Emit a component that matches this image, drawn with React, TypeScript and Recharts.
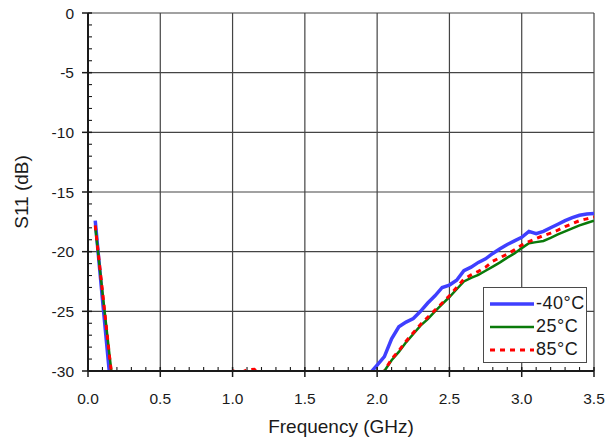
import { LineChart, Line, XAxis, YAxis, CartesianGrid, Legend } from 'recharts';

// S11 vs frequency at three temperatures.
// null = no trace drawn there (below the -30 dB floor).
const freqGHz = [
  0.05, 0.1, 0.15, 0.2, 0.25, 0.3, 0.35, 0.4, 0.45, 0.5,
  0.55, 0.6, 0.65, 0.7, 0.75, 0.8, 0.85, 0.9, 0.95, 1.0,
  1.05, 1.1, 1.15, 1.2, 1.25, 1.3, 1.35, 1.4, 1.45, 1.5,
  1.55, 1.6, 1.65, 1.7, 1.75, 1.8, 1.85, 1.9, 1.95, 2.0,
  2.05, 2.1, 2.15, 2.2, 2.25, 2.3, 2.35, 2.4, 2.45, 2.5,
  2.55, 2.6, 2.65, 2.7, 2.75, 2.8, 2.85, 2.9, 2.95, 3.0,
  3.05, 3.1, 3.15, 3.2, 3.25, 3.3, 3.35, 3.4, 3.45, 3.5,
];

const s11Minus40 = [
  -17.4, -24.0, -30.4, -36.0, null, null, null, null, null, null,
  null, null, null, null, null, null, null, null, null, null,
  null, null, null, null, null, null, null, null, null, null,
  null, null, null, null, null, null, null, null, -30.2, -29.5,
  -28.8, -27.3, -26.3, -25.9, -25.6, -25.0, -24.3, -23.7, -23.0, -22.8,
  -22.4, -21.6, -21.3, -20.9, -20.6, -20.15, -19.75, -19.4, -19.1, -18.8,
  -18.3, -18.5, -18.3, -18.0, -17.7, -17.4, -17.15, -16.95, -16.85, -16.8,
];

const s11Plus25 = [
  -17.9, -23.4, -28.8, -34.0, null, null, null, null, null, null,
  null, null, null, null, null, null, null, null, null, null,
  null, null, null, null, null, null, null, null, null, null,
  null, null, null, null, null, null, null, null, null, -31.0,
  -30.0, -29.1, -28.4, -27.6, -26.9, -26.2, -25.65, -25.0, -24.4, -23.8,
  -23.15, -22.5, -22.2, -21.95, -21.6, -21.25, -20.9, -20.5, -20.15, -19.7,
  -19.3, -19.2, -19.1, -18.85, -18.55, -18.3, -18.05, -17.8, -17.6, -17.4,
];

const s11Plus85 = [
  -17.8, -23.3, -28.9, -34.0, null, null, null, null, null, null,
  null, null, null, null, null, null, null, null, null, -29.98,
  -30.2, -29.9, -29.85, -30.4, null, null, null, null, null, null,
  null, null, null, null, null, null, null, null, null, -31.0,
  -30.0, -29.0, -28.3, -27.5, -26.8, -26.1, -25.5, -24.9, -24.3, -23.7,
  -23.0, -22.3, -21.95, -21.65, -21.3, -20.8, -20.5, -20.2, -19.85, -19.45,
  -19.15, -18.9, -18.65, -18.45, -18.2, -17.9, -17.65, -17.4, -17.25, -17.1,
];

const xMajorTicks = [0, 0.5, 1.0, 1.5, 2.0, 2.5, 3.0, 3.5];
const xMinorTicks = [
  0, 0.1, 0.2, 0.3, 0.4, 0.5, 0.6, 0.7, 0.8, 0.9, 1.0, 1.1, 1.2, 1.3, 1.4, 1.5, 1.6, 1.7,
  1.8, 1.9, 2.0, 2.1, 2.2, 2.3, 2.4, 2.5, 2.6, 2.7, 2.8, 2.9, 3.0, 3.1, 3.2, 3.3, 3.4, 3.5,
];
const yMajorTicks = [-30, -25, -20, -15, -10, -5, 0];
const yMinorTicks = [
  -30, -29, -28, -27, -26, -25, -24, -23, -22, -21, -20, -19, -18, -17, -16, -15,
  -14, -13, -12, -11, -10, -9, -8, -7, -6, -5, -4, -3, -2, -1, 0,
];

const series = [
  { key: 'm40', name: '-40°C', color: '#3f3fff', width: 3.5, dash: undefined },
  { key: 'p25', name: '25°C', color: '#0a7a0a', width: 2.5, dash: undefined },
  { key: 'p85', name: '85°C', color: '#ff0000', width: 3, dash: '5 5' },
];

const rows = freqGHz.map((f, i) => ({
  f,
  m40: s11Minus40[i],
  p25: s11Plus25[i],
  p85: s11Plus85[i],
}));

const FONT = '"Liberation Sans", Arial, sans-serif';
const INK = '#1a1a1a';
const X_LABEL_GAP = 22;
const Y_LABEL_GAP = 14;

const isMajor = (v: number, majors: number[]) => majors.some((m) => Math.abs(m - v) < 1e-6);

// tick mark + label drawn together so minor ticks can point inwards
function FreqTick(props: any) {
  const { x, y, payload } = props;
  const v = payload.value as number;
  const major = isMajor(v, xMajorTicks);
  const axisY = y - X_LABEL_GAP;
  return (
    <g>
      <line x1={x} x2={x} y1={axisY - 4} y2={major ? axisY + 6 : axisY} stroke={INK} strokeWidth={major ? 1.5 : 1.1} />
      {major && (
        <text x={x} y={y} dy="0.71em" textAnchor="middle" fontSize={15.5} fill={INK} fontFamily={FONT}>
          {v.toFixed(1)}
        </text>
      )}
    </g>
  );
}

function DbTick(props: any) {
  const { x, y, payload } = props;
  const v = payload.value as number;
  const major = isMajor(v, yMajorTicks);
  const axisX = x + Y_LABEL_GAP;
  return (
    <g>
      <line x1={major ? axisX - 6 : axisX} x2={axisX + 4} y1={y} y2={y} stroke={INK} strokeWidth={major ? 1.5 : 1.1} />
      {major && (
        <text x={x} y={y} dy="0.355em" textAnchor="end" fontSize={15.5} fill={INK} fontFamily={FONT}>
          {v}
        </text>
      )}
    </g>
  );
}

function LegendBox() {
  return (
    <div
      style={{
        border: '1px solid #4a4a4a',
        background: '#fff',
        width: 104,
        height: 76,
        boxSizing: 'border-box',
        padding: '4px 0 0 6px',
        fontFamily: FONT,
      }}
    >
      {series.map((s) => (
        <div key={s.key} style={{ display: 'flex', alignItems: 'center', height: 23 }}>
          <svg width={44} height={8} style={{ display: 'block' }}>
            <line x1={0} y1={4} x2={44} y2={4} stroke={s.color} strokeWidth={s.width} strokeDasharray={s.dash} />
          </svg>
          <span style={{ fontSize: 18, color: INK, marginLeft: 2, letterSpacing: 0.5 }}>{s.name}</span>
        </div>
      ))}
    </div>
  );
}

export default function App() {
  return (
    <div style={{ position: 'absolute', left: 0, top: 0, width: 608, height: 443, background: '#fff' }}>
      <LineChart width={608} height={443} data={rows} margin={{ top: 13, right: 14, left: 28, bottom: 32 }}>
        <CartesianGrid stroke="#444" strokeWidth={1.2} verticalValues={xMajorTicks} horizontalValues={yMajorTicks} />
        <XAxis
          dataKey="f"
          type="number"
          domain={[0, 3.5]}
          ticks={xMinorTicks}
          interval={0}
          height={40}
          tickSize={0}
          tickMargin={X_LABEL_GAP}
          axisLine={{ stroke: INK, strokeWidth: 2 }}
          tickLine={false}
          tick={<FreqTick />}
          allowDataOverflow
        />
        <YAxis
          type="number"
          domain={[-30, 0]}
          ticks={yMinorTicks}
          interval={0}
          width={60}
          tickSize={0}
          tickMargin={Y_LABEL_GAP}
          axisLine={{ stroke: INK, strokeWidth: 2 }}
          tickLine={false}
          tick={<DbTick />}
          allowDataOverflow
        />
        {series.map((s) => (
          <Line
            key={s.key}
            dataKey={s.key}
            name={s.name}
            type="linear"
            stroke={s.color}
            strokeWidth={s.width}
            strokeDasharray={s.dash}
            dot={false}
            activeDot={false}
            isAnimationActive={false}
          />
        ))}
        <Legend
          layout="horizontal"
          verticalAlign="middle"
          align="center"
          content={() => <LegendBox />}
          wrapperStyle={{ position: 'absolute', left: 483, top: 287, width: 104, height: 76 }}
        />
      </LineChart>
      <div
        style={{
          position: 'absolute',
          left: 22,
          top: 192,
          transform: 'translate(-50%, -50%) rotate(-90deg)',
          fontFamily: FONT,
          fontSize: 19,
          color: INK,
          whiteSpace: 'nowrap',
        }}
      >
        S11 (dB)
      </div>
      <div
        style={{
          position: 'absolute',
          left: 341,
          top: 427,
          transform: 'translate(-50%, -50%)',
          fontFamily: FONT,
          fontSize: 19,
          color: INK,
          whiteSpace: 'nowrap',
        }}
      >
        Frequency (GHz)
      </div>
    </div>
  );
}
